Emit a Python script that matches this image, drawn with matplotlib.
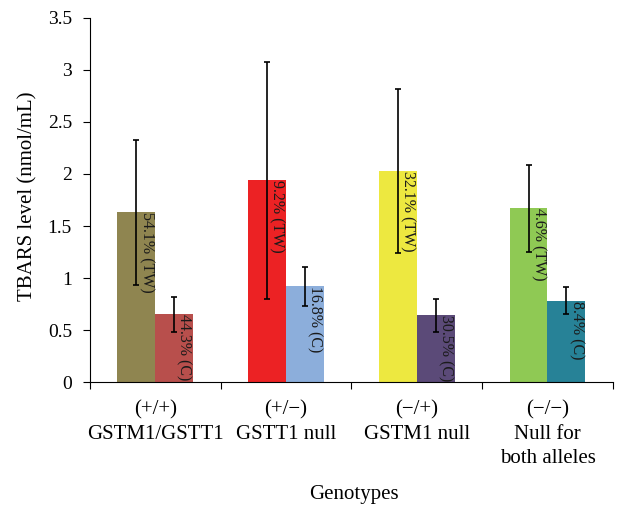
import matplotlib
matplotlib.use("Agg")
import matplotlib.pyplot as plt
import numpy as np

# data
genotypes = ["(+/+)\nGSTM1/GSTT1", "(+/\u2212)\nGSTT1 null",
             "(\u2212/+)\nGSTM1 null", "(\u2212/\u2212)\nNull for\nboth alleles"]
tw_mean = [1.63, 1.94, 2.03, 1.67]
tw_err = [0.70, 1.14, 0.79, 0.42]
c_mean = [0.65, 0.92, 0.64, 0.78]
c_err = [0.165, 0.185, 0.157, 0.13]
tw_labels = ["54.1% (TW)", "9.2% (TW)", "32.1% (TW)", "4.6% (TW)"]
c_labels = ["44.3% (C)", "16.8% (C)", "30.5% (C)", "8.4% (C)"]
tw_colors = ["#8f8550", "#ec2224", "#ede840", "#8fc954"]
c_colors = ["#b84f4c", "#8caedb", "#5b4a78", "#278297"]

plt.rcParams['font.family'] = ['Liberation Serif', 'DejaVu Serif']

fig = plt.figure(figsize=(6.18, 5.08), dpi=100)
ax = fig.add_axes([0.1456, 0.248, 0.846, 0.7166])

x = np.arange(len(genotypes)) + 0.5
w = 0.29

ax.bar(x - w / 2, tw_mean, w, color=tw_colors)
ax.bar(x + w / 2, c_mean, w, color=c_colors)
ax.errorbar(x - w / 2, tw_mean, yerr=tw_err, fmt="none", ecolor="black",
            elinewidth=1.2, capsize=2.5, capthick=1.2)
ax.errorbar(x + w / 2, c_mean, yerr=c_err, fmt="none", ecolor="black",
            elinewidth=1.2, capsize=2.5, capthick=1.2)

# rotated percentage labels hanging from the top of each bar
for i in range(len(x)):
    ax.text(x[i] - w / 2 + 0.075, tw_mean[i], tw_labels[i], rotation=-90,
            ha="center", va="top", fontsize=11.5, color="#1a1a1a")
    ax.text(x[i] + w / 2 + 0.075, c_mean[i], c_labels[i], rotation=-90,
            ha="center", va="top", fontsize=11.5, color="#1a1a1a")

ax.set_xlim(0, 4)
ax.set_ylim(0, 3.5)
ax.set_yticks(np.arange(0, 3.51, 0.5))
ax.set_yticklabels(["0", "0.5", "1", "1.5", "2", "2.5", "3", "3.5"])
ax.set_xticks(np.arange(0, 5))
ax.set_xticklabels([])
ax.set_xticks(x, minor=True)
ax.set_xticklabels(genotypes, minor=True, fontsize=15, linespacing=1.38)
ax.tick_params(axis="x", which="minor", length=0, pad=13)
ax.tick_params(axis="x", which="major", length=5, direction="out")
ax.tick_params(axis="y", length=5, labelsize=14, pad=8)

ax.spines["top"].set_visible(False)
ax.spines["right"].set_visible(False)

ax.set_ylabel("TBARS level (nmol/mL)", fontsize=15, va="center")
ax.yaxis.set_label_coords(-0.118, 0.51)
ax.set_xlabel("Genotypes", fontsize=15, va="center")
ax.xaxis.set_label_coords(0.505, -0.308)

fig.savefig("out.png", dpi=100)
